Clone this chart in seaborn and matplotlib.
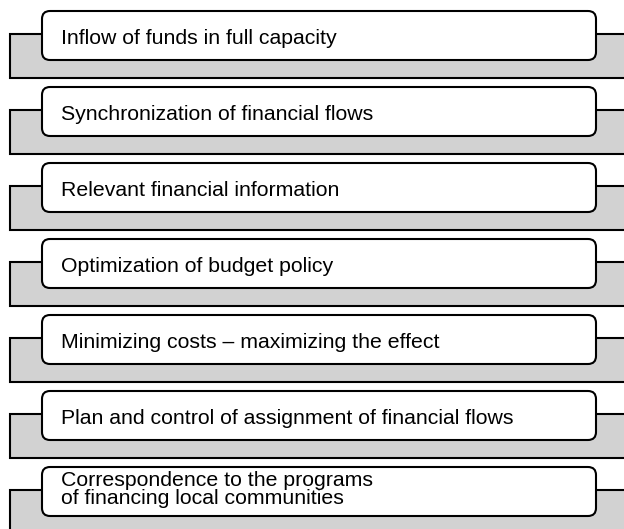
import matplotlib
matplotlib.use("Agg")
import matplotlib.pyplot as plt
from matplotlib.patches import FancyBboxPatch, Rectangle
import seaborn as sns

# Principles listed in the diagram, top to bottom
labels = [
    "Inflow of funds in full capacity",
    "Synchronization of financial flows",
    "Relevant financial information",
    "Optimization of budget policy",
    "Minimizing costs \u2013 maximizing the effect",
    "Plan and control of assignment of financial flows",
    "Correspondence to the programs\nof financing local communities",
]

sns.set_theme(style="white")
plt.rcParams["font.family"] = ["Liberation Sans", "DejaVu Sans"]

W, H = 624, 529
fig = plt.figure(figsize=(W / 100, H / 100), dpi=100)
ax = fig.add_axes([0, 0, 1, 1])
ax.set_xlim(0, W)
ax.set_ylim(H, 0)
ax.axis("off")

step = 76
gray = "#d2d2d2"
lw = 1.5
fsize = 15.3

for i, text in enumerate(labels):
    top = 11 + i * step
    # gray band behind the box
    band = Rectangle((10, top + 23), 640, 44, facecolor=gray,
                     edgecolor="black", linewidth=lw, zorder=1)
    ax.add_patch(band)
    # white rounded box with the label
    box = FancyBboxPatch((42, top), 554, 49,
                         boxstyle="round,pad=0,rounding_size=8",
                         facecolor="white", edgecolor="black",
                         linewidth=lw, zorder=2)
    ax.add_patch(box)
    lines = text.split("\n")
    if len(lines) == 1:
        ax.text(61, top + 33, text, ha="left", va="baseline",
                fontsize=fsize, color="black", zorder=3)
    else:
        for j, line in enumerate(lines):
            ax.text(61, top + 19 + j * 18, line, ha="left", va="baseline",
                    fontsize=fsize, color="black", zorder=3)

fig.savefig("out.png", dpi=100)
